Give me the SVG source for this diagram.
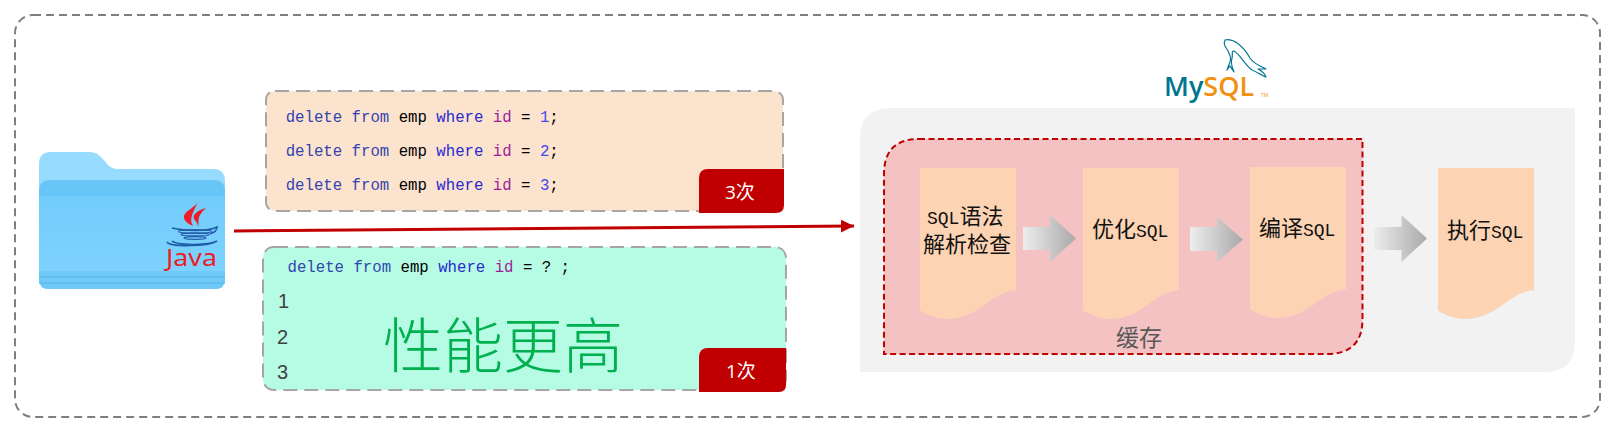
<svg xmlns="http://www.w3.org/2000/svg" width="1610" height="429" viewBox="0 0 1610 429">
<style>
text{font-family:"Noto Sans CJK SC","Noto Sans",sans-serif;white-space:pre}
.code{font-family:"Liberation Mono","Noto Sans CJK SC",monospace;font-size:15.7px;fill:#000}
.k{fill:#3344b0}.w{fill:#2a2ad0}.i{fill:#a0209a}.n{fill:#4646ee}
.num{font-family:"Liberation Sans",sans-serif;font-size:20px;fill:#404040}
.box{stroke:#a6a6a6;stroke-width:2;stroke-dasharray:14 7}
.badge{fill:#c00000}
.bt{font-family:"Open Sans","Noto Sans CJK SC",sans-serif;font-size:19px;fill:#fff}
.doc{fill:#fcd3b3}
.dt{font-size:22px;fill:#111}
.m{font-family:"Liberation Mono",monospace;font-size:18px}
.ba{fill:url(#ag)}
</style>
<defs>
<linearGradient id="ag" x1="0" x2="1" y1="0" y2="0"><stop offset="0" stop-color="#ededed"/><stop offset="1" stop-color="#a9a9a9"/></linearGradient>
<linearGradient id="fold" x1="0" x2="0" y1="0" y2="1"><stop offset="0" stop-color="#70cbfa"/><stop offset="1" stop-color="#80d3fe"/></linearGradient>
<marker id="ah" markerUnits="userSpaceOnUse" markerWidth="14" markerHeight="14" refX="13" refY="6.5" orient="auto"><path d="M0 0L13 6.5L0 13Z" fill="#c00000"/></marker>
<path id="docshape" d="M0 0H96V122.500C72 122.500 60 151 27 151C16 151 8 147 0 142.500Z"/>
</defs>
<rect x="15" y="15" width="1585" height="402" rx="18" fill="#fff" stroke="#7f7f7f" stroke-width="2" stroke-dasharray="8 5"/>

<g id="java-folder">
<path d="M39 164Q39 152 51 152H90Q97 152 102 158L108 165Q112 169 118 169H213Q225 169 225 181V277Q225 289 213 289H51Q39 289 39 277Z" fill="#97dcff"/>
<path d="M39 192Q39 180 51 180H213Q225 180 225 192V279Q225 289 215 289H49Q39 289 39 279Z" fill="url(#fold)"/>
<path d="M39 196V192Q39 180 51 180H213Q225 180 225 192V196Z" fill="#67c6f7"/>
<path d="M39 271H225V279Q225 289 215 289H49Q39 289 39 279Z" fill="#6fc8f6"/>
<path d="M39 277H225M39 283H225" stroke="#5fbdee" stroke-width="1.500" fill="none"/>
<path d="M199 200C196 208 183 211 184 218C185 222 189 224 193 226C189 219 192 214 199 200ZM206 208C199 210 192 214 194 219C196 222 198 223 198 227C200 222 195 218 206 208Z" fill="#ee1c25"/>
<g fill="none" stroke="#1f5aa8">
<path d="M172 228C184 231 208 232 217 227C217 231 213 233 210 234" stroke-width="1.500"/>
<ellipse cx="195" cy="231.500" rx="17" ry="1.800" stroke-width="1"/>
<ellipse cx="195" cy="234.500" rx="14" ry="1.500" stroke-width="1.300"/>
<ellipse cx="195" cy="238" rx="11" ry="1.300" stroke-width="1.300"/>
<path d="M167 242C170 247 207 247 217 241C208 246 176 245 172 241" stroke-width="1.500"/>
</g>
<text x="166" y="266" font-family="Noto Sans" font-size="23" fill="#ee1c25" textLength="51" lengthAdjust="spacingAndGlyphs" style="font-family:'Noto Sans',sans-serif">Java</text>
</g>

<g id="sql-three-times">
<rect class="box" x="266" y="91" width="517" height="120" rx="9" fill="#fce3cd"/>
<text class="code" x="285.700" y="122"><tspan class="k">delete from</tspan> emp <tspan class="w">where</tspan> <tspan class="i">id</tspan> = <tspan class="n">1</tspan>;</text>
<text class="code" x="285.700" y="156"><tspan class="k">delete from</tspan> emp <tspan class="w">where</tspan> <tspan class="i">id</tspan> = <tspan class="n">2</tspan>;</text>
<text class="code" x="285.700" y="190"><tspan class="k">delete from</tspan> emp <tspan class="w">where</tspan> <tspan class="i">id</tspan> = <tspan class="n">3</tspan>;</text>
<path class="badge" d="M708 169H784V205Q784 213 776 213H699V178Q699 169 708 169Z"/>
<text class="bt" x="725" y="199">3次</text>
</g>

<g id="sql-prepared">
<rect class="box" x="263" y="247" width="523" height="143" rx="11" fill="#b6fce4"/>
<text class="code" x="287.500" y="272"><tspan class="k">delete from</tspan> emp <tspan class="w">where</tspan> <tspan class="i">id</tspan> = ? ;</text>
<text class="num" x="278" y="308">1</text>
<text class="num" x="277" y="344">2</text>
<text class="num" x="277" y="379">3</text>
<text x="383" y="368" font-size="60" font-weight="300" fill="#00b050">性能更高</text>
<path class="badge" d="M708 348H786V385Q786 392 779 392H699V357Q699 348 708 348Z"/>
<text class="bt" x="726" y="378">1次</text>
</g>

<g id="mysql-logo">
<text x="1164" y="96" font-size="27" font-weight="600" fill="#00758f" style="font-family:'Open Sans',sans-serif">My<tspan fill="#f29111">SQL</tspan></text>
<text x="1261" y="97" font-size="5" fill="#f29111" style="font-family:'Open Sans',sans-serif">TM</text>
<path d="M1225 40C1232 38 1242 44 1250 58C1254 64 1260 66 1266 69L1258 69C1262 71 1265 74 1266 77C1261 75 1255 71 1252 70C1244 64 1240 54 1234 51C1231 51 1233 55 1232 58C1230 64 1233 69 1234 72L1230 66L1227 70L1230 62C1232 58 1229 52 1225 46C1224 44 1224 42 1225 40Z" fill="none" stroke="#00758f" stroke-width="1.200" stroke-linejoin="round"/>
</g>

<g id="mysql-server">
<path d="M890 108H1575V342Q1575 372 1545 372H860V138Q860 108 890 108Z" fill="#f2f2f2"/>
</g>

<g id="cache">
<path d="M919 139H1362.500V319Q1362.500 354 1327 354H884V174Q884 139 919 139Z" fill="#f4c2c3" stroke="#c00000" stroke-width="2" stroke-dasharray="6 3.500"/>
<text x="1116" y="346" font-size="23" fill="#595959">缓存</text>
</g>

<g id="step-parse">
<use class="doc" href="#docshape" x="920" y="168"/>
<text class="dt" x="927" y="224"><tspan class="m">SQL</tspan>语法</text>
<text class="dt" x="923" y="252">解析检查</text>
</g>
<g id="step-optimize">
<use class="doc" href="#docshape" x="1083" y="168"/>
<text class="dt" x="1092" y="237">优化<tspan class="m">SQL</tspan></text>
</g>
<g id="step-compile">
<use class="doc" href="#docshape" x="1250" y="167"/>
<text class="dt" x="1259" y="236">编译<tspan class="m">SQL</tspan></text>
</g>
<g id="step-execute">
<use class="doc" href="#docshape" x="1438" y="168"/>
<text class="dt" x="1447" y="238">执行<tspan class="m">SQL</tspan></text>
</g>

<g id="connectors">
<line x1="234" y1="231" x2="854" y2="226" stroke="#c00000" stroke-width="3" marker-end="url(#ah)"/>
<path class="ba" d="M1023 227H1050V215L1076 238.500L1050 262V250H1023Z"/>
<path class="ba" d="M1190 227H1217V217L1243 239.500L1217 262V251H1190Z"/>
<path class="ba" d="M1374 227H1401.500V215L1427 238.500L1401.500 262V250H1374Z"/>
</g>
</svg>
